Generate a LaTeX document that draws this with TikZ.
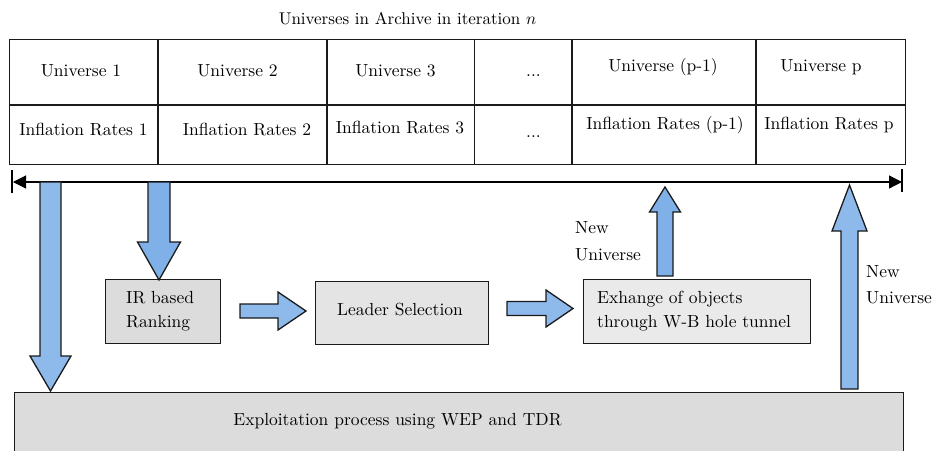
\documentclass[tikz,border=0pt]{standalone}
\usetikzlibrary{arrows.meta}
\definecolor{arrowblue}{HTML}{8DB9EB}
\definecolor{arrowblueB}{HTML}{7FB1E8}
\definecolor{boxgrayA}{HTML}{DCDCDC}
\definecolor{boxgrayB}{HTML}{E4E4E4}
\definecolor{boxgrayC}{HTML}{EAEAEA}
\definecolor{edge}{HTML}{1A1A1A}

% text set at 10pt and enlarged, so the 10pt design size is kept
\newcommand\tx[2][1.75]{\scalebox{#1}{#2}}

% vertical block arrow: centre x, shaft start y, head base y, tip y, half shaft, half head
\newcommand\vblock[7][arrowblue]{%
  \draw[blockarrow, fill=#1] ({#2-#6},#3) -- ({#2-#6},#4) -- ({#2-#7},#4) -- (#2,#5)
    -- ({#2+#7},#4) -- ({#2+#6},#4) -- ({#2+#6},#3) -- cycle;}
% horizontal block arrow: centre y, shaft start x, head base x, tip x, half shaft, half head
\newcommand\hblock[7][arrowblue]{%
  \draw[blockarrow, fill=#1] (#3,{#2-#6}) -- (#4,{#2-#6}) -- (#4,{#2-#7}) -- (#5,#2)
    -- (#4,{#2+#7}) -- (#4,{#2+#6}) -- (#3,{#2+#6}) -- cycle;}

\begin{document}
\begin{tikzpicture}[x=1pt, y=-1pt,
  every node/.style={font=\fontsize{10}{12}\selectfont, inner sep=0pt},
  lbl/.style={anchor=base},
  lblw/.style={anchor=base west},
  box/.style={draw=edge, line width=1.4pt, anchor=north west, inner sep=0pt},
  grid/.style={draw=edge, line width=1.2pt},
  blockarrow/.style={draw=edge, line width=1.3pt, line join=miter},
  rule/.style={draw=black, line width=1.2pt}]
\useasboundingbox (0,0) rectangle (933,450);
\clip (0,0) rectangle (933,450);

% title
\node[lbl] (title) at (407.5,24) {\tx[1.7]{Universes in Archive in iteration $n$}};

% archive table
\node[box, line width=1.2pt, minimum width=896pt, minimum height=125pt] (archive) at (9,39) {};
\draw[grid] (archive.west |- 0,105) -- (archive.east |- 0,105);
\foreach \cx in {158,327,474.5,572,756}
  \draw[grid] (\cx,39) -- (\cx,164);

\node[lbl] (u1) at (81,76) {\tx{Universe 1}};
\node[lbl] (u2) at (237.5,76) {\tx{Universe 2}};
\node[lbl] (u3) at (395.5,76) {\tx{Universe 3}};
\node[lbl] (ud) at (533.5,76) {\tx{...}};
\node[lbl] (up1) at (663,71) {\tx{Universe (p-1)}};
\node[lbl] (up) at (821,71) {\tx{Universe p}};

\node[lbl] (r1) at (83.5,135) {\tx{Inflation Rates 1}};
\node[lbl] (r2) at (247,135) {\tx{Inflation Rates 2}};
\node[lbl] (r3) at (400,133) {\tx{Inflation Rates 3}};
\node[lbl] (rd) at (533.5,137) {\tx{...}};
\node[lbl] (rp1) at (665,129) {\tx{Inflation Rates (p-1)}};
\node[lbl] (rp) at (829,129) {\tx{Inflation Rates p}};

% double-headed rule below the table
\coordinate (ruleL) at (13,182);
\coordinate (ruleR) at (902,182);
\draw[rule, {Triangle[length=13pt,width=13pt]}-{Triangle[length=13pt,width=13pt]}] (ruleL) -- (ruleR);
\draw[rule] ([yshift=-11pt]ruleL -| 12,0) -- ([yshift=12pt]ruleL -| 12,0);
\draw[rule] ([yshift=-10pt]ruleR) -- ([yshift=13pt]ruleR);

% process boxes
\node[box, fill=boxgrayA, minimum width=115pt, minimum height=64pt] (irb) at (105,279) {};
\node[lblw] (irtxt) at (126,303) {\tx{IR based}};
\node[lblw] (irtxt2) at (126,327) {\tx{Ranking}};

\node[box, fill=boxgrayB, minimum width=173pt, minimum height=63pt] (lead) at (315,281) {};
\node[lbl] (leadtxt) at (400,315) {\tx{Leader Selection}};

\node[box, fill=boxgrayC, minimum width=227pt, minimum height=64pt] (exch) at (583,279) {};
\node[lblw] (extxt) at (597,303) {\tx{Exhange of objects}};
\node[lblw] (extxt2) at (597,327) {\tx{through W-B hole tunnel}};

\node[box, fill=boxgrayA, minimum width=889pt, minimum height=80pt] (expl) at (14,392) {};
\node[lbl] (expltxt) at (397.5,425) {\tx{Exploitation process using WEP and TDR}};

% labels of the new universes
\node[lblw] (nu1) at (575,233) {\tx{New}};
\node[lblw] (nu1b) at (575,260) {\tx{Universe}};
\node[lblw] (nu2) at (866,277) {\tx{New}};
\node[lblw] (nu2b) at (866,303) {\tx{Universe}};

% block arrows
\vblock{50.5}{182}{356}{391}{10.5}{20.5}
\vblock[arrowblueB]{159}{182}{242}{280}{11}{21.5}
\hblock{311}{240}{278}{306}{7}{19}
\hblock{308.5}{507}{546}{573}{7}{18.5}
\vblock[arrowblueB]{665}{276}{212}{187}{8}{15.5}
\vblock{849.5}{389}{231}{185}{8.5}{17.5}
\end{tikzpicture}
\end{document}
